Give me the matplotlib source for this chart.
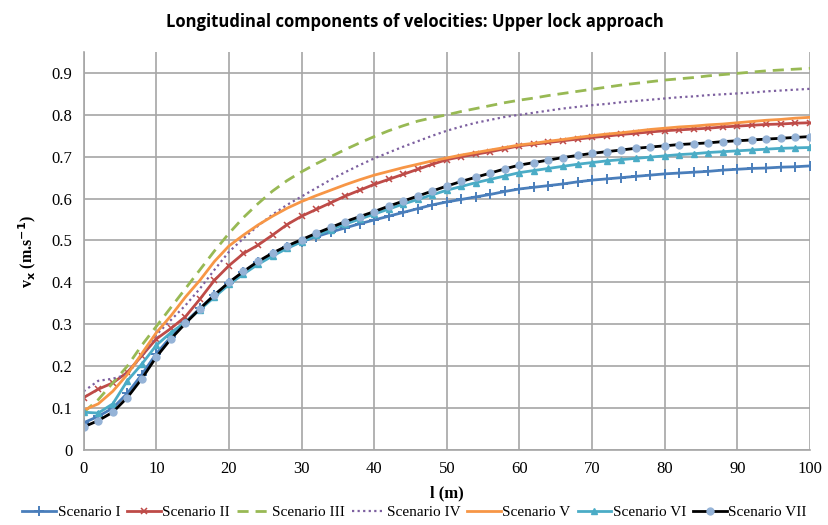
import matplotlib
matplotlib.use("Agg")
import matplotlib.pyplot as plt

# distance along the approach (m), every 2 m
l = list(range(0, 101, 2))

v_I = [0.065, 0.08, 0.10, 0.135, 0.18, 0.23, 0.27, 0.305, 0.338, 0.37, 0.399,
       0.425, 0.448, 0.468, 0.484, 0.497, 0.509, 0.52, 0.53, 0.54, 0.549,
       0.558, 0.567, 0.576, 0.585, 0.592, 0.598, 0.604, 0.61, 0.617, 0.623,
       0.627, 0.631, 0.635, 0.64, 0.644, 0.647, 0.65, 0.653, 0.656, 0.659,
       0.661, 0.663, 0.665, 0.668, 0.67, 0.672, 0.673, 0.675, 0.676, 0.678]
v_II = [0.125, 0.145, 0.16, 0.185, 0.225, 0.265, 0.29, 0.318, 0.36, 0.405, 0.44,
        0.469, 0.489, 0.513, 0.538, 0.558, 0.574, 0.59, 0.606, 0.62, 0.634,
        0.646, 0.658, 0.67, 0.682, 0.693, 0.70, 0.706, 0.712, 0.719, 0.726,
        0.73, 0.734, 0.738, 0.742, 0.746, 0.749, 0.753, 0.756, 0.759, 0.762,
        0.764, 0.766, 0.768, 0.771, 0.773, 0.775, 0.777, 0.778, 0.78, 0.781]
v_III = [0.09, 0.12, 0.16, 0.20, 0.25, 0.295, 0.34, 0.385, 0.43, 0.475, 0.517,
         0.555, 0.588, 0.618, 0.643, 0.664, 0.683, 0.70, 0.717, 0.733, 0.748,
         0.762, 0.774, 0.785, 0.793, 0.80, 0.808, 0.815, 0.822, 0.829, 0.835,
         0.84, 0.846, 0.851, 0.856, 0.861, 0.866, 0.871, 0.875, 0.879, 0.883,
         0.886, 0.889, 0.893, 0.896, 0.899, 0.902, 0.905, 0.907, 0.909, 0.911]
v_IV = [0.14, 0.165, 0.17, 0.18, 0.225, 0.275, 0.31, 0.345, 0.385, 0.43, 0.473,
        0.505, 0.535, 0.562, 0.585, 0.605, 0.625, 0.645, 0.663, 0.68, 0.696,
        0.71, 0.724, 0.737, 0.75, 0.762, 0.772, 0.781, 0.788, 0.795, 0.80,
        0.805, 0.81, 0.815, 0.819, 0.823, 0.826, 0.83, 0.833, 0.836, 0.839,
        0.842, 0.844, 0.847, 0.849, 0.851, 0.853, 0.856, 0.858, 0.86, 0.862]
v_V = [0.095, 0.11, 0.14, 0.18, 0.23, 0.28, 0.32, 0.365, 0.405, 0.45, 0.487,
       0.513, 0.537, 0.558, 0.577, 0.593, 0.607, 0.62, 0.633, 0.645, 0.656,
       0.665, 0.674, 0.682, 0.69, 0.697, 0.704, 0.71, 0.716, 0.722, 0.728,
       0.732, 0.737, 0.741, 0.746, 0.75, 0.754, 0.757, 0.761, 0.765, 0.768,
       0.771, 0.773, 0.776, 0.778, 0.781, 0.784, 0.787, 0.789, 0.792, 0.794]
v_VI = [0.09, 0.088, 0.11, 0.165, 0.205, 0.25, 0.28, 0.305, 0.335, 0.365, 0.395,
        0.42, 0.443, 0.463, 0.481, 0.497, 0.512, 0.526, 0.539, 0.551, 0.563,
        0.575, 0.587, 0.598, 0.609, 0.62, 0.629, 0.638, 0.646, 0.654, 0.662,
        0.667, 0.672, 0.677, 0.682, 0.686, 0.69, 0.693, 0.696, 0.699, 0.702,
        0.705, 0.707, 0.71, 0.712, 0.714, 0.716, 0.718, 0.72, 0.721, 0.722]
v_VII = [0.055, 0.07, 0.09, 0.125, 0.17, 0.222, 0.265, 0.302, 0.337, 0.37, 0.40,
         0.426, 0.45, 0.47, 0.487, 0.502, 0.517, 0.531, 0.545, 0.557, 0.569,
         0.582, 0.594, 0.606, 0.618, 0.63, 0.641, 0.651, 0.661, 0.671, 0.68,
         0.686, 0.692, 0.698, 0.703, 0.708, 0.712, 0.716, 0.72, 0.723, 0.726,
         0.729, 0.731, 0.733, 0.736, 0.738, 0.74, 0.742, 0.744, 0.746, 0.748]

fig = plt.figure(figsize=(8.29, 5.25), dpi=100)
ax = fig.add_axes([0.101, 0.143, 0.876, 0.758])

ax.plot(l, v_I, color='#4a7ebb', lw=2, marker='+', ms=6.5, mew=1.4, label='Scenario I')
ax.plot(l, v_II, color='#be4b48', lw=2, marker='x', ms=5, mew=1.1, label='Scenario II')
ax.plot(l, v_III, color='#98b954', lw=2, ls=(0, (4, 2.5)), label='Scenario III')
ax.plot(l, v_IV, color='#7d60a0', lw=1.6, ls=(0, (1, 1.5)), label='Scenario IV')
ax.plot(l, v_V, color='#f79646', lw=2, label='Scenario V')
ax.plot(l, v_VI, color='#4bacc6', lw=2, marker='^', ms=4.5, label='Scenario VI')
ax.plot(l, v_VII, color='black', lw=2, marker='o', ms=5, mfc='#95b3d7', mec='#95b3d7',
        label='Scenario VII')

ax.set_xlim(0, 100)
ax.set_ylim(0, 0.95)
ax.set_xticks(range(0, 101, 10))
ax.set_yticks([0, 0.1, 0.2, 0.3, 0.4, 0.5, 0.6, 0.7, 0.8, 0.9])
ax.set_yticklabels(['0', '0.1', '0.2', '0.3', '0.4', '0.5', '0.6', '0.7', '0.8', '0.9'])
ax.grid(True, color='#a6a6a6', lw=1.2)
ax.set_axisbelow(True)
for side in ['top', 'right']:
    ax.spines[side].set_visible(False)
for side in ['left', 'bottom']:
    ax.spines[side].set_color('#a6a6a6')
    ax.spines[side].set_linewidth(1.2)
ax.tick_params(length=0, pad=8, labelsize=12)
for lab in ax.get_xticklabels() + ax.get_yticklabels():
    lab.set_fontfamily('Liberation Serif')

ax.set_xlabel('l (m)', fontfamily='Liberation Serif', fontweight='bold', fontsize=12, labelpad=6)
ax.set_ylabel('v$_\\mathbf{x}$ (m.s$^\\mathbf{-1}$)', fontfamily='Liberation Serif',
              fontweight='bold', fontsize=11.5, labelpad=10)
fig.suptitle('Longitudinal components of velocities: Upper lock approach',
             fontfamily='Open Sans', fontweight='bold', fontsize=12, y=0.975)

fig.legend(loc='lower center', bbox_to_anchor=(0.5, 0.0), ncol=7, frameon=False,
           prop={'family': 'Liberation Serif', 'size': 11}, handlelength=2.2,
           handletextpad=0.1, columnspacing=0.45, borderaxespad=0.2, borderpad=0.2)

fig.savefig('out.png', dpi=100)
